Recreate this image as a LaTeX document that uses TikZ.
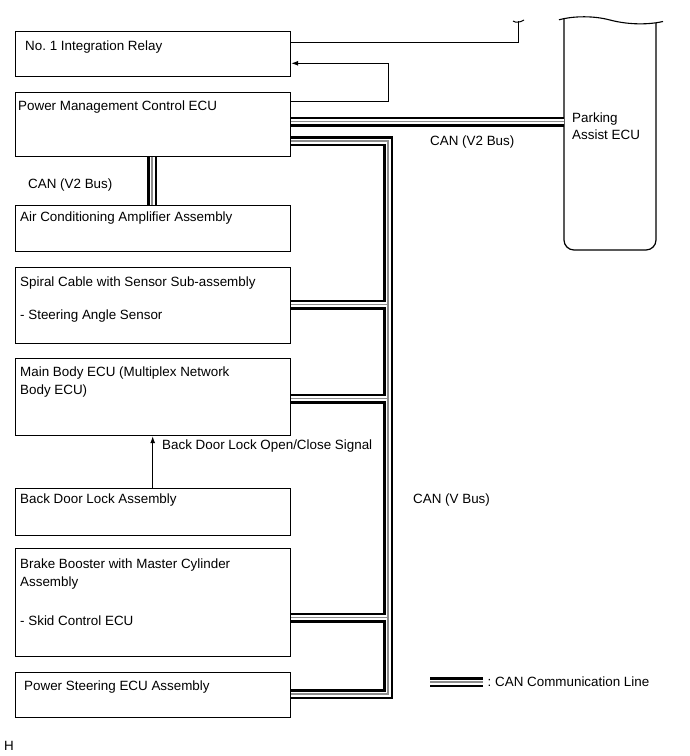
\documentclass[tikz,border=0pt]{standalone}
\usepackage{fontspec}
\setmainfont{Liberation Sans}
\usetikzlibrary{arrows.meta}
\frenchspacing
\begin{document}
\begin{tikzpicture}[x=1pt,y=-1pt,
  box/.style={draw, line width=1.2pt, anchor=north west, minimum width=275pt, inner sep=0pt},
  lbl/.style={anchor=base west, inner sep=0pt, font=\fontsize{13.4}{16}\selectfont},
  wire/.style={line width=1pt},
  arr/.style={wire, -{Latex[length=7pt,width=5pt]}}]
\useasboundingbox (0,0) rectangle (689,756);

% boxes
\node[box, minimum height=45.3pt] (relay) at (15,30.7) {};
\node[box, minimum height=64.3pt] (pmc) at (15,91.7) {};
\node[box, minimum height=46pt] (ac) at (15,205) {};
\node[box, minimum height=75.7pt] (spiral) at (15,267) {};
\node[box, minimum height=77pt] (main) at (15,358) {};
\node[box, minimum height=47pt] (bd) at (15,488) {};
\node[box, minimum height=108pt] (brake) at (15,548) {};
\node[box, minimum height=45pt] (ps) at (15,671.7) {};
\node[anchor=north west, minimum width=92pt, minimum height=230pt, inner sep=0pt] (park) at (564,20) {};

% parking assist ECU outline
\draw[line width=1.2pt, rounded corners=10pt] (564,18.8) -- (564,250) -- (656,250) -- (656,23);
\draw[line width=1.1pt] (559,19.8) .. controls (575,15.5) and (595,16) .. (610,20) .. controls (625,24) and (645,25.5) .. (663,21.5);

% texts
\node[lbl] (t1) at (25,50) {No.\ 1 Integration Relay};
\node[lbl] (t2) at (18,110) {Power Management Control ECU};
\node[lbl] (t3) at (20,221) {Air Conditioning Amplifier Assembly};
\node[lbl] (t4) at (20,286) {Spiral Cable with Sensor Sub-assembly};
\node[lbl] (t5) at (20,319) {- Steering Angle Sensor};
\node[lbl] (t6) at (20,376) {Main Body ECU (Multiplex Network};
\node[lbl] (t7) at (20,394) {Body ECU)};
\node[lbl] (t8) at (20,503) {Back Door Lock Assembly};
\node[lbl] (t9) at (20,568) {Brake Booster with Master Cylinder};
\node[lbl] (t10) at (20,586) {Assembly};
\node[lbl] (t11) at (20,625) {- Skid Control ECU};
\node[lbl] (t12) at (24,690) {Power Steering ECU Assembly};
\node[lbl] (t13) at (28,188) {CAN (V2 Bus)};
\node[lbl] (t14) at (430,145) {CAN (V2 Bus)};
\node[lbl] (t15) at (413,503) {CAN (V Bus)};
\node[lbl] (t16) at (162,449) {Back Door Lock Open/Close Signal};
\node[lbl] (t17) at (572,122) {Parking};
\node[lbl] (t18) at (572,139) {Assist ECU};
\node[lbl] (t19) at (487.5,686) {: CAN Communication Line};
\node[lbl] (t20) at (4,750) {H};

% coordinates
\coordinate (r0) at (518,42.5);
\coordinate (rt) at (518,21);
\coordinate (r1) at (388,63.3);
\coordinate (r2) at (388,101.7);
\coordinate (v0) at (388,141);
\coordinate (v1) at (388,304.5);
\coordinate (v2) at (388,398.5);
\coordinate (v3) at (388,617.5);
\coordinate (v5) at (388,694);
\coordinate (h0) at (0,121.5);
\coordinate (c0) at (152,0);
\coordinate (a0) at (152.7,0);
\coordinate (leg1) at (430,682);
\coordinate (leg2) at (483,682);

% thin wires
\draw[wire] (r0 -| relay.east) -- (r0) -- (rt);
\draw[wire] ([xshift=-5pt]rt) .. controls ([xshift=-2pt,yshift=-2pt]rt) and ([xshift=2pt,yshift=-1.5pt]rt) .. ([xshift=6pt,yshift=1pt]rt);
\draw[arr] (r2 -| pmc.east) -- (r2) -- (r1) -- (r1 -| relay.east);
\draw[arr] (bd.north -| a0) -- (main.south -| a0);

% CAN buses (drawn in three passes)
\foreach \w/\c in {10/black,5/white,1.2/black!45}{
  \draw[line width=\w pt, draw=\c] (v0 -| pmc.east) -- (v0) -- (v5) -- (v5 -| ps.east);
  \draw[line width=\w pt, draw=\c] (v1 -| spiral.east) -- (v1);
  \draw[line width=\w pt, draw=\c] (v2 -| main.east) -- (v2);
  \draw[line width=\w pt, draw=\c] (v3 -| brake.east) -- (v3);
  \draw[line width=\w pt, draw=\c] (h0 -| pmc.east) -- (h0 -| park.west);
  \draw[line width=\w pt, draw=\c] (pmc.south -| c0) -- (ac.north -| c0);
  \draw[line width=\w pt, draw=\c] (leg1) -- (leg2);
}
\end{tikzpicture}
\end{document}
